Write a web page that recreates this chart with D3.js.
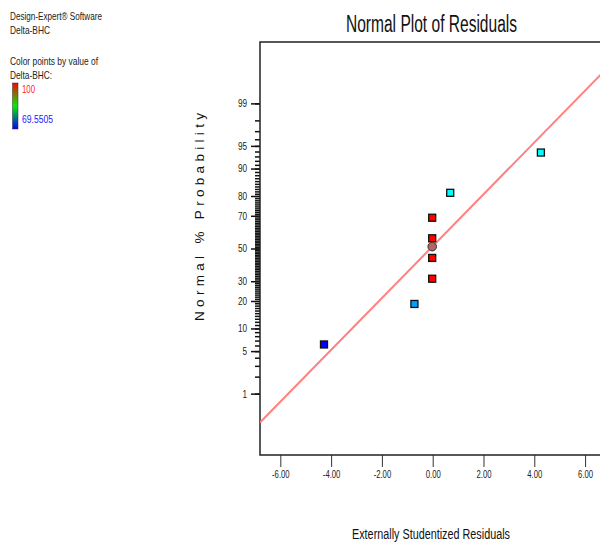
<!DOCTYPE html>
<html>
<head>
<meta charset="utf-8">
<script src="https://cdn.jsdelivr.net/npm/d3@7"></script>
<style>
  html, body { margin: 0; padding: 0; background: #fff; }
  svg { display: block; font-family: "Liberation Sans", Arial, sans-serif; }
</style>
</head>
<body>
<svg id="chart" width="600" height="542"></svg>
<script>
// ---- data ----
const residuals     = [-4.28, -0.72, -0.02, -0.02, -0.02, -0.02, -0.02, 0.69, 4.26];
const probabilities = [6.2, 18.7, 31.4, 44.0, 51.2, 56.5, 68.9, 81.4, 93.8];
const pointColors   = ["#0000ff", "#00a0ff", "#ff0000", "#ff0000", "#b46464", "#ff0000", "#ff0000", "#00ffff", "#00ffff"];
const pointShapes   = ["square", "square", "square", "square", "circle", "square", "square", "square", "square"];
const fitResiduals     = [-6.8, 6.8];
const fitProbabilities = [0.264, 99.79];
const xTicks      = [-6, -4, -2, 0, 2, 4, 6];
const yTickLabels = [1, 5, 10, 20, 30, 50, 70, 80, 90, 95, 99];
const yMinorTicks = d3.range(1, 100);
const legendMax = "100";
const legendMin = "69.5505";

// inverse normal CDF (Acklam)
function probit(p) {
  const a = [-3.969683028665376e+01, 2.209460984245205e+02, -2.759285104469687e+02, 1.383577518672690e+02, -3.066479806614716e+01, 2.506628277459239e+00];
  const b = [-5.447609879822406e+01, 1.615858368580409e+02, -1.556989798598866e+02, 6.680131188771972e+01, -1.328068155288572e+01];
  const c = [-7.784894002430293e-03, -3.223964580411365e-01, -2.400758277161838e+00, -2.549671669087935e+00, 4.374664141464968e+00, 2.938163982698783e+00];
  const d = [7.784695709041462e-03, 3.224671290700398e-01, 2.445134137142996e+00, 3.754408661907416e+00];
  const pl = 0.02425, ph = 1 - pl;
  let q, r;
  if (p < pl) {
    q = Math.sqrt(-2 * Math.log(p));
    return (((((c[0]*q+c[1])*q+c[2])*q+c[3])*q+c[4])*q+c[5]) / ((((d[0]*q+d[1])*q+d[2])*q+d[3])*q+1);
  } else if (p <= ph) {
    q = p - 0.5; r = q*q;
    return (((((a[0]*r+a[1])*r+a[2])*r+a[3])*r+a[4])*r+a[5])*q / (((((b[0]*r+b[1])*r+b[2])*r+b[3])*r+b[4])*r+1);
  } else {
    q = Math.sqrt(-2 * Math.log(1 - p));
    return -(((((c[0]*q+c[1])*q+c[2])*q+c[3])*q+c[4])*q+c[5]) / ((((d[0]*q+d[1])*q+d[2])*q+d[3])*q+1);
  }
}

const svg = d3.select("#chart");
const L = 260, R = 605.4, T = 42, B = 455;

const x = d3.scaleLinear().domain([-6.8, 6.8]).range([L, R]);
const yz = d3.scaleLinear().domain([-3.31, 3.31]).range([B, T]);
const y = p => yz(probit(p / 100));

function squeeze(sel, ratio) {
  sel.each(function () {
    const len = this.getComputedTextLength();
    this.setAttribute("textLength", len * ratio);
    this.setAttribute("lengthAdjust", "spacingAndGlyphs");
  });
}

// ---- legend text (top-left) ----
const legendLines = [
  { t: "Design-Expert® Software", y: 20, w: 92 },
  { t: "Delta-BHC", y: 34, w: 40 },
  { t: "Color points by value of", y: 65, w: 88 },
  { t: "Delta-BHC:", y: 79, w: 42 }
];
svg.selectAll("text.leg").data(legendLines).join("text")
  .attr("class", "leg")
  .attr("x", 10).attr("y", d => d.y)
  .attr("font-size", 11).attr("fill", "#222")
  .attr("textLength", d => d.w).attr("lengthAdjust", "spacingAndGlyphs")
  .text(d => d.t);

const grad = svg.append("defs").append("linearGradient")
  .attr("id", "cbar").attr("x1", 0).attr("y1", 0).attr("x2", 0).attr("y2", 1);
grad.append("stop").attr("offset", "0%").attr("stop-color", "#ff0000");
grad.append("stop").attr("offset", "50%").attr("stop-color", "#00ee00");
grad.append("stop").attr("offset", "100%").attr("stop-color", "#0000ff");
svg.append("rect").attr("x", 12.5).attr("y", 83).attr("width", 5.5).attr("height", 46)
  .attr("fill", "url(#cbar)").attr("stroke", "#333").attr("stroke-width", 0.5);
svg.append("text").attr("x", 22).attr("y", 93).attr("font-size", 11).attr("fill", "#ff2020")
  .attr("textLength", 13).attr("lengthAdjust", "spacingAndGlyphs").text(legendMax);
svg.append("text").attr("x", 22).attr("y", 123).attr("font-size", 11).attr("fill", "#2020ff")
  .attr("textLength", 31).attr("lengthAdjust", "spacingAndGlyphs").text(legendMin);

// ---- title ----
svg.append("text").attr("x", 431.5).attr("y", 32).attr("text-anchor", "middle")
  .attr("font-size", 23).attr("fill", "#111")
  .attr("textLength", 171).attr("lengthAdjust", "spacingAndGlyphs")
  .text("Normal Plot of Residuals");

// ---- axes ----
const yMinor = svg.append("g").attr("transform", `translate(${L},0)`)
  .call(d3.axisLeft(yz).tickValues(yMinorTicks.map(p => probit(p / 100))).tickSize(5).tickFormat(""));
yMinor.select(".domain").remove();
yMinor.selectAll("line").attr("stroke", "#111").attr("stroke-width", 1.5);

const yAxis = svg.append("g").attr("transform", `translate(${L},0)`)
  .call(d3.axisLeft(yz).tickValues(yTickLabels.map(p => probit(p / 100)))
    .tickFormat((d, i) => yTickLabels[i]).tickSize(9).tickPadding(4));
yAxis.select(".domain").remove();
yAxis.selectAll("line").attr("stroke", "#111").attr("stroke-width", 1.5);
yAxis.selectAll("text").attr("font-size", 10.5).attr("fill", "#222")
  .attr("font-family", "'Liberation Sans', Arial, sans-serif");
squeeze(yAxis.selectAll("text"), 0.78);

const xAxis = svg.append("g").attr("transform", `translate(0,${B})`)
  .call(d3.axisBottom(x).tickValues(xTicks).tickFormat(d => d.toFixed(2)).tickSize(12).tickPadding(4));
xAxis.select(".domain").remove();
xAxis.selectAll("line").attr("stroke", "#333");
xAxis.selectAll("text").attr("font-size", 10).attr("fill", "#222")
  .attr("font-family", "'Liberation Sans', Arial, sans-serif");
squeeze(xAxis.selectAll("text"), 0.77);

// frame (left, top, bottom)
svg.append("path")
  .attr("d", `M${R},${T}H${L}V${B}H${R}`)
  .attr("fill", "none").attr("stroke", "#222").attr("stroke-width", 1.5);

// ---- axis titles ----
svg.append("text").attr("x", 431).attr("y", 539).attr("text-anchor", "middle")
  .attr("font-size", 14).attr("fill", "#111")
  .attr("textLength", 158).attr("lengthAdjust", "spacingAndGlyphs")
  .text("Externally Studentized Residuals");

svg.append("text").attr("transform", "translate(204,217) rotate(-90)")
  .attr("text-anchor", "middle").attr("font-size", 13.5).attr("fill", "#111")
  .attr("textLength", 208).attr("lengthAdjust", "spacing")
  .text("Normal % Probability");

// ---- fitted line ----
const clip = svg.append("defs").append("clipPath").attr("id", "plotclip");
clip.append("rect").attr("x", L).attr("y", T).attr("width", R - L).attr("height", B - T);
svg.append("line")
  .attr("clip-path", "url(#plotclip)")
  .attr("x1", x(fitResiduals[0])).attr("y1", y(fitProbabilities[0]))
  .attr("x2", x(fitResiduals[1])).attr("y2", y(fitProbabilities[1]))
  .attr("stroke", "#ff8080").attr("stroke-width", 2);

// ---- points ----
const pts = residuals.map((r, i) => ({ r, p: probabilities[i], c: pointColors[i], s: pointShapes[i] }));
const sq = 7;
svg.selectAll("rect.pt").data(pts.filter(d => d.s === "square")).join("rect")
  .attr("class", "pt")
  .attr("x", d => x(d.r) - sq / 2).attr("y", d => y(d.p) - sq / 2)
  .attr("width", sq).attr("height", sq)
  .attr("fill", d => d.c).attr("stroke", "#111").attr("stroke-width", 1.3);
svg.selectAll("circle.pt").data(pts.filter(d => d.s === "circle")).join("circle")
  .attr("class", "pt")
  .attr("cx", d => x(d.r)).attr("cy", d => y(d.p)).attr("r", 4.3)
  .attr("fill", d => d.c).attr("stroke", "#333").attr("stroke-width", 1);
</script>
</body>
</html>
